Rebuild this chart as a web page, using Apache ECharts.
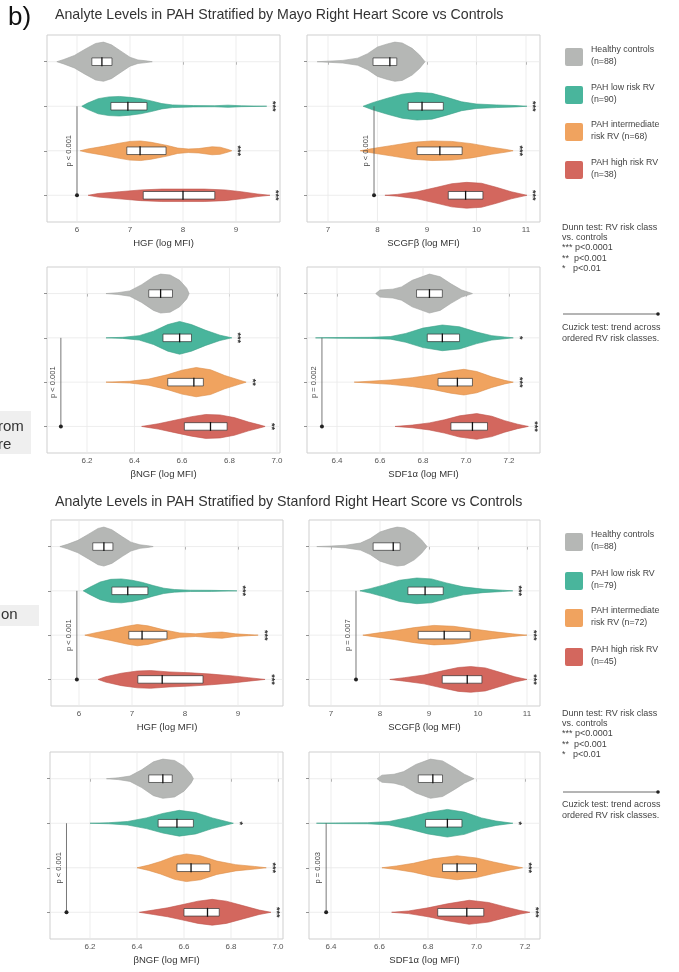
<!DOCTYPE html>
<html><head><meta charset="utf-8">
<script src="https://cdn.jsdelivr.net/npm/echarts@6/dist/echarts.min.js"></script>
<style>html,body{margin:0;padding:0;background:#fff}#c{width:679px;height:972px}</style>
</head><body><div id="c"></div><script>
// ---------- shared ----------
const groups = ['Healthy controls', 'PAH low risk RV', 'PAH intermediate risk RV', 'PAH high risk RV'];
const groupColors = ['#b5b7b5', '#49b59c', '#f0a35f', '#d3675e'];
const groupStroke = ['#a3a5a3', '#3a9f87', '#dc8d48', '#bd5249'];
const mayoLegend = ['Healthy controls\n(n=88)', 'PAH low risk RV\n(n=90)', 'PAH intermediate\nrisk RV (n=68)', 'PAH high risk RV\n(n=38)'];
const stanfordLegend = ['Healthy controls\n(n=88)', 'PAH low risk RV\n(n=79)', 'PAH intermediate\nrisk RV (n=72)', 'PAH high risk RV\n(n=45)'];
const dunnText = 'Dunn test: RV risk class\nvs. controls\n*** p<0.0001\n**  p<0.001\n*   p<0.01';
const cuzickText = 'Cuzick test: trend across\nordered RV risk classes.';
const ngfTicks = [6.2, 6.4, 6.6, 6.8, 7.0];
const sdfTicks = [6.4, 6.6, 6.8, 7.0, 7.2];
const hgfTicks = [6, 7, 8, 9];
const scgfTicks = [7, 8, 9, 10, 11];
const groupTicks = [0, 1, 2, 3];

// ---------- Mayo: HGF ----------
const hgfMayoViolin = [
  [[5.62,0],[5.75,0.05],[5.95,0.14],[6.15,0.28],[6.35,0.41],[6.5,0.44],[6.65,0.38],[6.85,0.22],[7.0,0.1],[7.15,0.04],[7.3,0.02],[7.42,0]],
  [[6.09,0],[6.2,0.07],[6.4,0.17],[6.6,0.21],[6.8,0.22],[7.0,0.2],[7.2,0.17],[7.4,0.12],[7.6,0.06],[7.8,0.03],[8.2,0.015],[8.6,0.012],[8.85,0.025],[9.1,0.01],[9.58,0]],
  [[6.06,0],[6.2,0.04],[6.5,0.1],[6.8,0.17],[7.0,0.21],[7.2,0.22],[7.4,0.19],[7.7,0.12],[7.9,0.06],[8.1,0.04],[8.3,0.05],[8.55,0.09],[8.7,0.08],[8.85,0.03],[8.92,0]],
  [[6.21,0],[6.4,0.04],[6.8,0.08],[7.2,0.12],[7.6,0.14],[8.0,0.14],[8.4,0.14],[8.8,0.12],[9.1,0.08],[9.4,0.03],[9.64,0]]
];
const hgfMayoBox = [[6.28,6.47,6.66],[6.64,6.96,7.32],[6.94,7.19,7.68],[7.25,8.0,8.6]];
const hgfMayoSig = ['', '***', '***', '***'];
const hgfMayoTrend = [6.0, 'p < 0.001'];

// ---------- Mayo: SCGFb ----------
const scgfMayoViolin = [
  [[6.78,0],[7.0,0.012],[7.3,0.03],[7.6,0.08],[7.8,0.18],[8.0,0.33],[8.2,0.4],[8.35,0.44],[8.5,0.42],[8.7,0.3],[8.85,0.15],[8.96,0]],
  [[7.71,0],[7.9,0.08],[8.2,0.18],[8.5,0.27],[8.8,0.31],[9.1,0.29],[9.4,0.2],[9.7,0.1],[10.0,0.05],[10.4,0.03],[10.8,0.015],[11.02,0]],
  [[7.65,0],[7.9,0.05],[8.3,0.12],[8.7,0.19],[9.1,0.22],[9.5,0.21],[9.9,0.16],[10.3,0.08],[10.6,0.03],[10.74,0]],
  [[8.15,0],[8.4,0.02],[8.8,0.08],[9.2,0.18],[9.5,0.26],[9.8,0.29],[10.1,0.27],[10.4,0.18],[10.7,0.08],[10.9,0.03],[11.02,0]]
];
const scgfMayoBox = [[7.91,8.25,8.39],[8.62,8.9,9.33],[8.8,9.26,9.71],[9.43,9.78,10.13]];
const scgfMayoSig = ['', '***', '***', '***'];
const scgfMayoTrend = [7.93, 'p < 0.001'];

// ---------- Mayo: bNGF ----------
const ngfMayoViolin = [
  [[6.28,0],[6.33,0.02],[6.38,0.06],[6.43,0.2],[6.48,0.38],[6.51,0.44],[6.55,0.42],[6.59,0.3],[6.62,0.12],[6.63,0]],
  [[6.28,0],[6.35,0.012],[6.42,0.05],[6.48,0.15],[6.54,0.3],[6.59,0.37],[6.64,0.3],[6.7,0.17],[6.76,0.06],[6.81,0]],
  [[6.28,0],[6.38,0.02],[6.46,0.07],[6.54,0.17],[6.6,0.27],[6.66,0.33],[6.72,0.28],[6.78,0.15],[6.84,0.05],[6.87,0]],
  [[6.43,0],[6.5,0.06],[6.57,0.14],[6.64,0.22],[6.7,0.27],[6.76,0.26],[6.82,0.2],[6.88,0.1],[6.93,0.03],[6.95,0]]
];
const ngfMayoBox = [[6.46,6.51,6.56],[6.52,6.59,6.64],[6.54,6.65,6.69],[6.61,6.72,6.79]];
const ngfMayoSig = ['', '***', '**', '**'];
const ngfMayoTrend = [6.09, 'p < 0.001'];

// ---------- Mayo: SDF1a ----------
const sdfMayoViolin = [
  [[6.58,0],[6.6,0.08],[6.66,0.1],[6.7,0.15],[6.75,0.3],[6.83,0.44],[6.88,0.38],[6.93,0.22],[6.98,0.08],[7.03,0]],
  [[6.3,0],[6.4,0.008],[6.55,0.012],[6.65,0.03],[6.72,0.1],[6.8,0.22],[6.89,0.29],[6.97,0.25],[7.05,0.13],[7.12,0.05],[7.18,0.02],[7.22,0]],
  [[6.48,0],[6.55,0.02],[6.65,0.05],[6.75,0.1],[6.85,0.17],[6.93,0.25],[6.99,0.29],[7.05,0.24],[7.12,0.12],[7.18,0.04],[7.22,0]],
  [[6.67,0],[6.75,0.03],[6.83,0.08],[6.9,0.15],[6.97,0.24],[7.05,0.29],[7.12,0.23],[7.18,0.13],[7.24,0.05],[7.29,0]]
];
const sdfMayoBox = [[6.77,6.83,6.89],[6.82,6.89,6.97],[6.87,6.96,7.03],[6.93,7.03,7.1]];
const sdfMayoSig = ['', '*', '***', '***'];
const sdfMayoTrend = [6.33, 'p = 0.002'];

// ---------- Stanford: HGF ----------
const hgfStanViolin = [
  [[5.64,0],[5.78,0.05],[5.98,0.14],[6.18,0.28],[6.36,0.41],[6.47,0.44],[6.62,0.38],[6.82,0.22],[6.98,0.1],[7.15,0.04],[7.3,0.02],[7.4,0]],
  [[6.08,0],[6.2,0.08],[6.4,0.2],[6.6,0.26],[6.8,0.27],[7.0,0.24],[7.2,0.19],[7.4,0.12],[7.6,0.06],[7.8,0.03],[8.1,0.015],[8.5,0.012],[8.98,0]],
  [[6.11,0],[6.3,0.05],[6.6,0.12],[6.9,0.2],[7.1,0.24],[7.3,0.21],[7.6,0.12],[7.9,0.05],[8.2,0.03],[8.5,0.06],[8.7,0.07],[8.95,0.03],[9.2,0.012],[9.38,0]],
  [[6.36,0],[6.5,0.06],[6.8,0.14],[7.1,0.19],[7.35,0.2],[7.7,0.17],[8.1,0.15],[8.5,0.12],[8.9,0.08],[9.2,0.04],[9.51,0]]
];
const hgfStanBox = [[6.26,6.47,6.64],[6.62,6.92,7.3],[6.94,7.19,7.66],[7.11,7.57,8.34]];
const hgfStanSig = ['', '***', '***', '***'];
const hgfStanTrend = [5.96, 'p < 0.001'];

// ---------- Stanford: SCGFb ----------
const scgfStanViolin = [
  [[6.71,0],[7.0,0.012],[7.3,0.03],[7.6,0.08],[7.8,0.18],[8.0,0.33],[8.2,0.4],[8.35,0.44],[8.5,0.42],[8.7,0.3],[8.85,0.15],[8.96,0]],
  [[7.59,0],[7.8,0.05],[8.1,0.14],[8.4,0.24],[8.75,0.29],[9.05,0.27],[9.35,0.18],[9.7,0.09],[10.1,0.04],[10.5,0.015],[10.71,0]],
  [[7.65,0],[7.9,0.04],[8.3,0.1],[8.7,0.17],[9.1,0.22],[9.5,0.2],[9.9,0.14],[10.3,0.08],[10.7,0.03],[11.0,0]],
  [[8.2,0],[8.5,0.04],[8.9,0.1],[9.3,0.2],[9.6,0.27],[9.85,0.29],[10.15,0.26],[10.45,0.16],[10.75,0.06],[11.0,0]]
];
const scgfStanBox = [[7.86,8.27,8.41],[8.57,8.92,9.29],[8.78,9.31,9.84],[9.27,9.78,10.08]];
const scgfStanSig = ['', '***', '***', '***'];
const scgfStanTrend = [7.51, 'p = 0.007'];

// ---------- Stanford: bNGF ----------
const ngfStanViolin = [
  [[6.27,0],[6.32,0.02],[6.37,0.06],[6.42,0.2],[6.47,0.38],[6.51,0.44],[6.56,0.41],[6.6,0.28],[6.63,0.1],[6.64,0]],
  [[6.2,0],[6.28,0.012],[6.36,0.04],[6.44,0.12],[6.51,0.22],[6.58,0.29],[6.65,0.24],[6.72,0.12],[6.78,0.04],[6.81,0]],
  [[6.4,0],[6.45,0.06],[6.5,0.14],[6.56,0.26],[6.61,0.31],[6.67,0.27],[6.74,0.15],[6.82,0.07],[6.9,0.03],[6.95,0]],
  [[6.41,0],[6.47,0.05],[6.53,0.1],[6.6,0.18],[6.66,0.25],[6.72,0.29],[6.78,0.25],[6.85,0.15],[6.92,0.05],[6.97,0]]
];
const ngfStanBox = [[6.45,6.51,6.55],[6.49,6.57,6.64],[6.57,6.63,6.71],[6.6,6.7,6.75]];
const ngfStanSig = ['', '*', '***', '***'];
const ngfStanTrend = [6.1, 'p < 0.001'];

// ---------- Stanford: SDF1a ----------
const sdfStanViolin = [
  [[6.59,0],[6.61,0.08],[6.66,0.1],[6.7,0.16],[6.75,0.32],[6.81,0.44],[6.86,0.4],[6.91,0.24],[6.95,0.1],[6.99,0]],
  [[6.34,0],[6.42,0.008],[6.55,0.012],[6.64,0.04],[6.72,0.13],[6.8,0.24],[6.88,0.31],[6.95,0.25],[7.02,0.12],[7.08,0.05],[7.15,0]],
  [[6.61,0],[6.67,0.04],[6.74,0.1],[6.82,0.2],[6.92,0.27],[7.0,0.22],[7.07,0.13],[7.14,0.05],[7.19,0]],
  [[6.65,0],[6.72,0.03],[6.8,0.1],[6.88,0.19],[6.97,0.27],[7.05,0.22],[7.12,0.12],[7.18,0.04],[7.22,0]]
];
const sdfStanBox = [[6.76,6.82,6.86],[6.79,6.88,6.94],[6.86,6.92,7.0],[6.84,6.96,7.03]];
const sdfStanSig = ['', '*', '***', '***'];
const sdfStanTrend = [6.38, 'p = 0.003'];

// ---------- panel layout ----------
const FONT = 'Liberation Sans, Arial, Helvetica, sans-serif';
const panels = [
  {left:47, top:35, w:233, h:187, min:5.434, max:9.83, ticks:hgfTicks, name:'HGF (log MFI)', v:hgfMayoViolin, b:hgfMayoBox, s:hgfMayoSig, t:hgfMayoTrend, dec:0},
  {left:307, top:35, w:233, h:187, min:6.576, max:11.283, ticks:scgfTicks, name:'SCGFβ (log MFI)', v:scgfMayoViolin, b:scgfMayoBox, s:scgfMayoSig, t:scgfMayoTrend, dec:0},
  {left:47, top:267, w:233, h:186, min:6.0316, max:7.0127, ticks:ngfTicks, name:'βNGF (log MFI)', v:ngfMayoViolin, b:ngfMayoBox, s:ngfMayoSig, t:ngfMayoTrend, dec:1},
  {left:307, top:267, w:233, h:186, min:6.2605, max:7.3442, ticks:sdfTicks, name:'SDF1α (log MFI)', v:sdfMayoViolin, b:sdfMayoBox, s:sdfMayoSig, t:sdfMayoTrend, dec:1},
  {left:51, top:520, w:232, h:186, min:5.472, max:9.849, ticks:hgfTicks, name:'HGF (log MFI)', v:hgfStanViolin, b:hgfStanBox, s:hgfStanSig, t:hgfStanTrend, dec:0},
  {left:309, top:520, w:231, h:186, min:6.551, max:11.265, ticks:scgfTicks, name:'SCGFβ (log MFI)', v:scgfStanViolin, b:scgfStanBox, s:scgfStanSig, t:scgfStanTrend, dec:0},
  {left:50, top:752, w:233, h:187, min:6.0298, max:7.0213, ticks:ngfTicks, name:'βNGF (log MFI)', v:ngfStanViolin, b:ngfStanBox, s:ngfStanSig, t:ngfStanTrend, dec:1},
  {left:309, top:752, w:231, h:187, min:6.3093, max:7.2619, ticks:sdfTicks, name:'SDF1α (log MFI)', v:sdfStanViolin, b:sdfStanBox, s:sdfStanSig, t:sdfStanTrend, dec:1}
];

function violinRenderer(p) {
  return function (params, api) {
    const i = api.value(1);
    const prof = p.v[i];
    const up = prof.map(d => api.coord([d[0], i - d[1]]));
    const dn = prof.map(d => api.coord([d[0], i + d[1]])).reverse();
    const box = p.b[i];
    const a = api.coord([box[0], i - 0.085]);
    const b = api.coord([box[2], i + 0.085]);
    const m1 = api.coord([box[1], i - 0.1]);
    const m2 = api.coord([box[1], i + 0.1]);
    const tail = api.coord([prof[prof.length - 1][0], i]);
    const children = [
      {type:'polygon', shape:{points: up.concat(dn)}, style:{fill: groupColors[i], stroke: groupStroke[i], lineWidth: 0.6}},
      {type:'rect', shape:{x: Math.min(a[0], b[0]), y: Math.min(a[1], b[1]), width: Math.abs(b[0]-a[0]), height: Math.abs(b[1]-a[1])},
        style:{fill:'#ffffff', stroke:'#333', lineWidth:0.7}},
      {type:'line', shape:{x1:m1[0], y1:m1[1], x2:m2[0], y2:m2[1]}, style:{stroke:'#111', lineWidth:1.3}}
    ];
    if (p.s[i]) {
      children.push({type:'text', x: tail[0] + 6, y: tail[1], rotation: -Math.PI/2,
        style:{text: p.s[i], fill:'#333', font: 'bold 9px ' + FONT, align:'center', verticalAlign:'middle'}});
    }
    return {type:'group', children};
  };
}
function trendRenderer(p) {
  return function (params, api) {
    const x = api.value(0);
    const t = api.coord([x, api.value(1)]);
    const bt = api.coord([x, api.value(2)]);
    const mid = api.coord([x, (api.value(1) + api.value(2)) / 2]);
    return {type:'group', children:[
      {type:'line', shape:{x1:t[0], y1:t[1], x2:bt[0], y2:bt[1]}, style:{stroke:'#555', lineWidth:0.8}},
      {type:'circle', shape:{cx:bt[0], cy:bt[1], r:2}, style:{fill:'#222'}},
      {type:'text', x: mid[0] - 8, y: mid[1], rotation: Math.PI/2,
        style:{text: p.t[1], fill:'#444', font:'7.5px ' + FONT, align:'center', verticalAlign:'middle'}}
    ]};
  };
}
// vertical grid lines at the tick values (panel x ranges do not start on a tick)
function gridLineRenderer(params, api) {
  const t = api.value(0);
  const a = api.coord([t, -0.6]);
  const b = api.coord([t, 3.6]);
  return {type:'line', shape:{x1:a[0], y1:a[1], x2:b[0], y2:b[1]}, style:{stroke:'#e8e8e8', lineWidth:0.8}};
}

const grid = [], xAxis = [], yAxis = [], series = [];
panels.forEach((p, k) => {
  grid.push({left:p.left, top:p.top, width:p.w, height:p.h, show:true, borderColor:'#cfcfcf', borderWidth:1, backgroundColor:'#fff'});
  xAxis.push({type:'value', gridIndex:k, min:p.min, max:p.max, name:p.name, nameLocation:'middle', nameGap:16,
    nameTextStyle:{fontSize:9.5, color:'#333', fontFamily:FONT},
    axisLine:{show:false},
    axisTick:{show:true, length:3, customValues:p.ticks, lineStyle:{color:'#777', width:0.8}},
    axisLabel:{fontSize:8, color:'#555', margin:4, fontFamily:FONT, customValues:p.ticks,
      formatter: v => p.dec ? Number(v).toFixed(1) : String(Math.round(v))},
    splitLine:{show:false}});
  yAxis.push({type:'value', gridIndex:k, min:-0.6, max:3.6, inverse:true,
    axisLine:{show:false},
    axisTick:{show:true, length:3, customValues:groupTicks, lineStyle:{color:'#777', width:0.8}},
    axisLabel:{show:false, customValues:groupTicks},
    splitLine:{show:false}});
  series.push({type:'custom', xAxisIndex:k, yAxisIndex:k, renderItem: gridLineRenderer,
    encode:{x:0, y:1}, data: p.ticks.map(t => [t, 0]), silent:true, z:1});
  series.push({type:'custom', xAxisIndex:k, yAxisIndex:k,
    renderItem: function (params, api) {
      const g = api.value(1);
      const a = api.coord([p.min, g]);
      const b = api.coord([p.max, g]);
      return {type:'line', shape:{x1:a[0], y1:a[1], x2:b[0], y2:b[1]}, style:{stroke:'#e8e8e8', lineWidth:0.8}};
    },
    encode:{x:0, y:1}, data: groupTicks.map(g => [p.min, g]), silent:true, z:1});
  series.push({type:'custom', xAxisIndex:k, yAxisIndex:k, renderItem: violinRenderer(p),
    encode:{x:0, y:1}, data: p.b.map((bx, i) => [bx[1], i]), silent:true, z:3});
  series.push({type:'custom', xAxisIndex:k, yAxisIndex:k, renderItem: trendRenderer(p),
    encode:{x:0, y:1}, data: [[p.t[0], 1, 3]], silent:true, z:4});
});

function legendBlock(labels, sqCenters, dunnY, arrowY, cuzY) {
  const els = [];
  labels.forEach((lab, i) => {
    els.push({type:'rect', shape:{x:565, y:sqCenters[i]-9, width:18, height:18, r:2}, style:{fill: groupColors[i]}});
    els.push({type:'text', x:591, y:sqCenters[i]-13, style:{text: lab, fill:'#444', font:'8.8px ' + FONT, lineHeight:12}});
  });
  els.push({type:'text', x:562, y:dunnY, style:{text: dunnText, fill:'#444', font:'9px ' + FONT, lineHeight:10.3}});
  els.push({type:'line', shape:{x1:563, y1:arrowY, x2:658, y2:arrowY}, style:{stroke:'#444', lineWidth:0.8}});
  els.push({type:'circle', shape:{cx:658, cy:arrowY, r:1.8}, style:{fill:'#222'}});
  els.push({type:'text', x:562, y:cuzY, style:{text: cuzickText, fill:'#444', font:'9px ' + FONT, lineHeight:11}});
  return els;
}

const graphic = [].concat(
  [{type:'text', x:8, y:5, style:{text:'b)', fill:'#111', font:'26px ' + FONT}},
   {type:'rect', shape:{x:0, y:411, width:31, height:43}, style:{fill:'#efefef'}},
   {type:'text', x:-2, y:418, style:{text:'rom\nre', fill:'#333', font:'15px ' + FONT, lineHeight:18}},
   {type:'rect', shape:{x:0, y:605, width:39, height:21}, style:{fill:'#efefef'}},
   {type:'text', x:1, y:607, style:{text:'on', fill:'#333', font:'15px ' + FONT}}],
  legendBlock(mayoLegend, [57, 95, 132, 170], 222, 314, 322),
  legendBlock(stanfordLegend, [542, 581, 618, 657], 708, 792, 799)
);

const chart = echarts.init(document.getElementById('c'), null, {renderer:'canvas'});
chart.setOption({
  backgroundColor:'#ffffff',
  animation:false,
  textStyle:{fontFamily:FONT},
  title:[
    {text:'Analyte Levels in PAH Stratified by Mayo Right Heart Score vs Controls', left:50, top:3,
      textStyle:{fontSize:14.2, fontWeight:'normal', color:'#333', fontFamily:FONT}},
    {text:'Analyte Levels in PAH Stratified by Stanford Right Heart Score vs Controls', left:50, top:490,
      textStyle:{fontSize:14.2, fontWeight:'normal', color:'#333', fontFamily:FONT}}
  ],
  grid, xAxis, yAxis, series, graphic
});
</script></body></html>
